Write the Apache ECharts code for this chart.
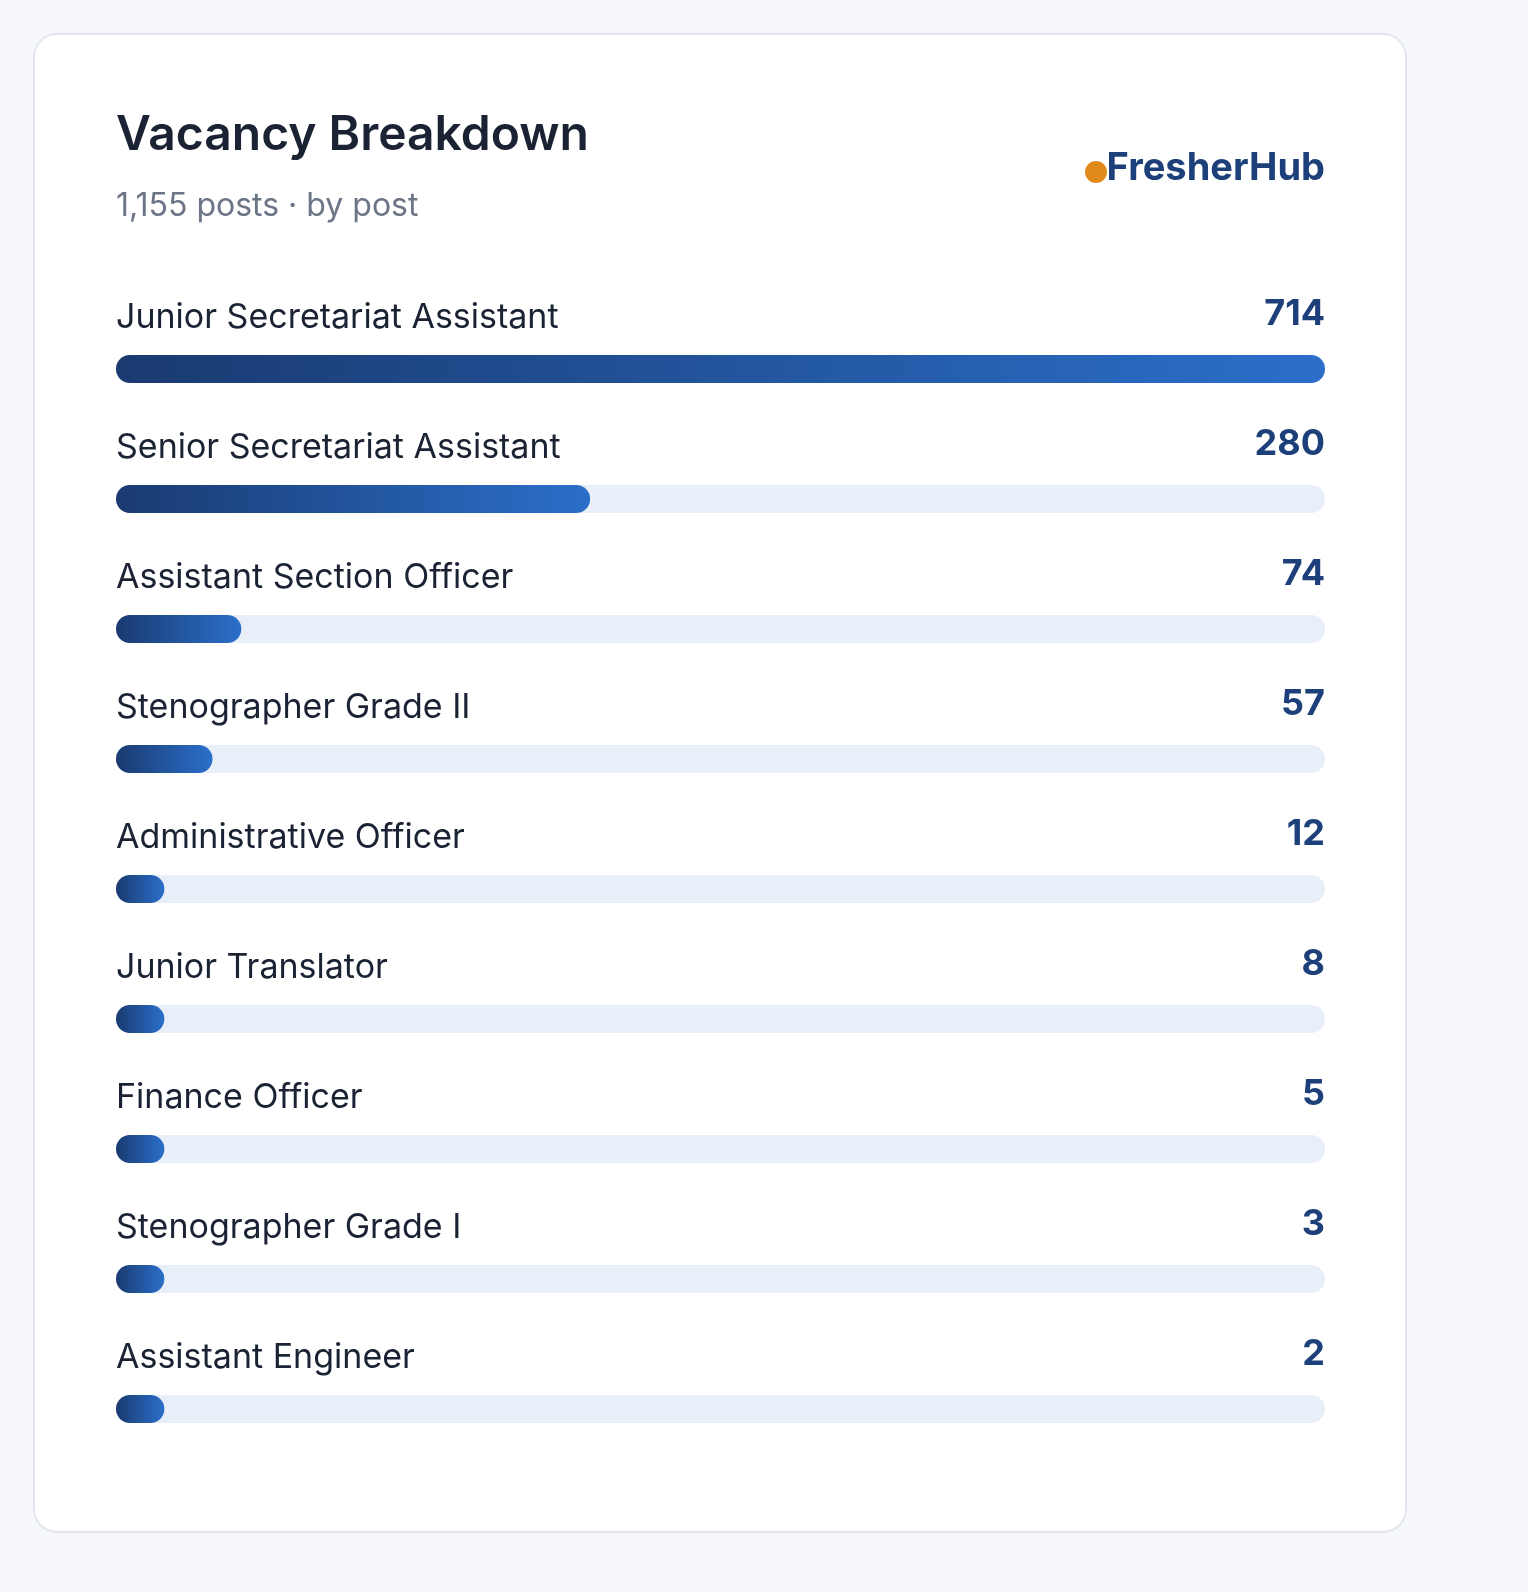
<!DOCTYPE html>
<html><head><meta charset="utf-8">
<script src="https://cdn.jsdelivr.net/npm/echarts@6/dist/echarts.min.js"></script>
<style>
html,body{margin:0;padding:0;background:#f5f7fb;}
#card{position:absolute;left:33px;top:33px;width:1374px;height:1500px;background:#fff;border:2px solid #e3e6ee;border-radius:24px;box-sizing:border-box;}
#c{position:absolute;left:0;top:0;width:1528px;height:1592px;}
</style></head>
<body><div id="card"></div><div id="c"></div>
<script>
const categories=["Junior Secretariat Assistant","Senior Secretariat Assistant","Assistant Section Officer","Stenographer Grade II","Administrative Officer","Junior Translator","Finance Officer","Stenographer Grade I","Assistant Engineer"];
const values=[714,280,74,57,12,8,5,3,2];
const maxV=Math.max(...values);
const minShown=maxV*0.04;
const font="Inter, 'Noto Sans', sans-serif";
const chart=echarts.init(document.getElementById('c'));
chart.setOption({
  animation:false,
  graphic:[
    {type:'text',left:116,top:112,style:{text:'Vacancy Breakdown',font:"600 48px "+font,fill:'#1a2233'}},
    {type:'text',left:116,top:190,style:{text:'1,155 posts · by post',font:"400 32px "+font,fill:'#6b7585'}},
    {type:'circle',shape:{cx:1096,cy:172,r:11},style:{fill:'#e08a1e'}},
    {type:'text',right:1528-1325,top:150,style:{text:'FresherHub',font:"700 38px "+font,fill:'#1d3f7a',textAlign:'right'}}
  ],
  grid:{left:116,right:1528-1325,top:304,height:1170},
  xAxis:{type:'value',min:0,max:maxV,show:false},
  yAxis:{type:'category',data:categories,inverse:true,show:false},
  series:[
    {type:'bar',barWidth:28,data:values.map(v=>Math.max(v,minShown)),
     showBackground:true,backgroundStyle:{color:'#e9eff9',borderRadius:14},
     itemStyle:{borderRadius:14,color:new echarts.graphic.LinearGradient(0,0,1,0,[{offset:0,color:'#1a3a70'},{offset:1,color:'#2b6fca'}])},
     label:{show:true,position:[0,-54],formatter:p=>categories[p.dataIndex],color:'#1a2233',fontSize:34,fontFamily:font}},
    {type:'bar',barWidth:28,barGap:'-100%',data:values.map(()=>maxV),z:1,
     itemStyle:{color:'rgba(0,0,0,0)'},silent:true,
     label:{show:true,position:'insideRight',distance:0,offset:[0,-55],formatter:p=>String(values[p.dataIndex]),color:'#1d3f7a',fontSize:36,fontWeight:700,fontFamily:font}}
  ]
});
</script></body></html>
